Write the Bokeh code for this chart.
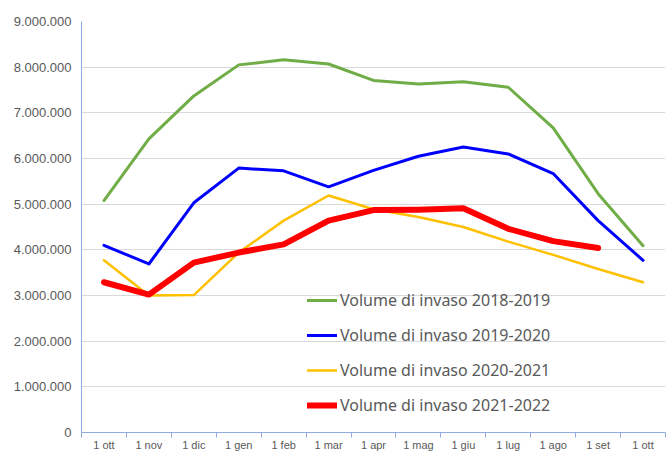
from bokeh.plotting import figure
from bokeh.models import FixedTicker, Range1d, Legend, LegendItem
from bokeh.embed import file_html
from bokeh.resources import INLINE

months = ["1 ott", "1 nov", "1 dic", "1 gen", "1 feb", "1 mar", "1 apr",
          "1 mag", "1 giu", "1 lug", "1 ago", "1 set", "1 ott"]
y_ticks = [0, 1000000, 2000000, 3000000, 4000000, 5000000, 6000000, 7000000, 8000000, 9000000]
y_tick_labels = ["0", "1.000.000", "2.000.000", "3.000.000", "4.000.000", "5.000.000",
                 "6.000.000", "7.000.000", "8.000.000", "9.000.000"]

vol_2018_2019 = [5080000, 6430000, 7370000, 8050000, 8160000, 8070000, 7710000,
                 7630000, 7680000, 7560000, 6670000, 5230000, 4090000]
vol_2019_2020 = [4100000, 3690000, 5030000, 5790000, 5730000, 5380000, 5740000,
                 6050000, 6250000, 6100000, 5670000, 4640000, 3770000]
vol_2020_2021 = [3770000, 3000000, 3010000, 3940000, 4640000, 5190000, 4890000,
                 4720000, 4500000, 4180000, 3890000, 3580000, 3290000]
vol_2021_2022 = [3290000, 3020000, 3720000, 3940000, 4120000, 4640000, 4870000,
                 4880000, 4910000, 4460000, 4190000, 4040000]

series = [
    ("Volume di invaso 2018-2019", vol_2018_2019, "#70AD47", 3),
    ("Volume di invaso 2019-2020", vol_2019_2020, "#0000FF", 3),
    ("Volume di invaso 2020-2021", vol_2020_2021, "#FFC000", 2.5),
    ("Volume di invaso 2021-2022", vol_2021_2022, "#FF0000", 6),
]

p = figure(width=669, height=453, output_backend="svg", toolbar_location=None,
           x_range=Range1d(-0.5, 12.5), y_range=Range1d(0, 9000000),
           min_border_left=81, min_border_top=21, min_border_right=4, min_border_bottom=5)
p.outline_line_color = None
p.background_fill_color = "white"
p.border_fill_color = "white"

items = []
for name, vals, color, w in series:
    r = p.line(list(range(len(vals))), vals, line_color=color, line_width=w,
               line_join="round", line_cap="round")
    items.append(LegendItem(label=name, renderers=[r]))

axis_col = "#8FAADC"
label_col = "#595959"

p.xaxis.ticker = FixedTicker(ticks=list(range(len(months))),
                             minor_ticks=[i - 0.5 for i in range(len(months) + 1)])
p.xaxis.major_label_overrides = {i: m for i, m in enumerate(months)}
p.xaxis.major_tick_out = 0
p.xaxis.major_tick_in = 0
p.xaxis.minor_tick_out = 5
p.xaxis.minor_tick_in = 0
p.xaxis.minor_tick_line_color = axis_col
p.xaxis.axis_line_color = axis_col
p.xaxis.major_label_standoff = 1
p.xaxis.major_label_text_font = "Liberation Sans"
p.xaxis.major_label_text_font_size = "11px"
p.xaxis.major_label_text_color = label_col

p.yaxis.ticker = FixedTicker(ticks=y_ticks, minor_ticks=[])
p.yaxis.major_label_overrides = {t: l for t, l in zip(y_ticks, y_tick_labels)}
p.yaxis.major_tick_out = 0
p.yaxis.major_tick_in = 0
p.yaxis.axis_line_color = axis_col
p.yaxis.major_label_standoff = 10
p.yaxis.major_label_text_font = "Liberation Sans"
p.yaxis.major_label_text_font_size = "13px"
p.yaxis.major_label_text_color = label_col

p.xgrid.grid_line_color = None
p.ygrid.grid_line_color = "#D9D9D9"
p.ygrid.grid_line_width = 1

legend = Legend(items=items, location=(226, 16), orientation="vertical",
                background_fill_alpha=0, border_line_color=None,
                padding=0, margin=0, spacing=13, glyph_width=30, glyph_height=20,
                label_height=20, label_standoff=3,
                label_text_font="Noto Sans", label_text_font_size="16px",
                label_text_color=label_col)
p.add_layout(legend, "center")

open("out.html", "w").write(file_html(p, INLINE))
